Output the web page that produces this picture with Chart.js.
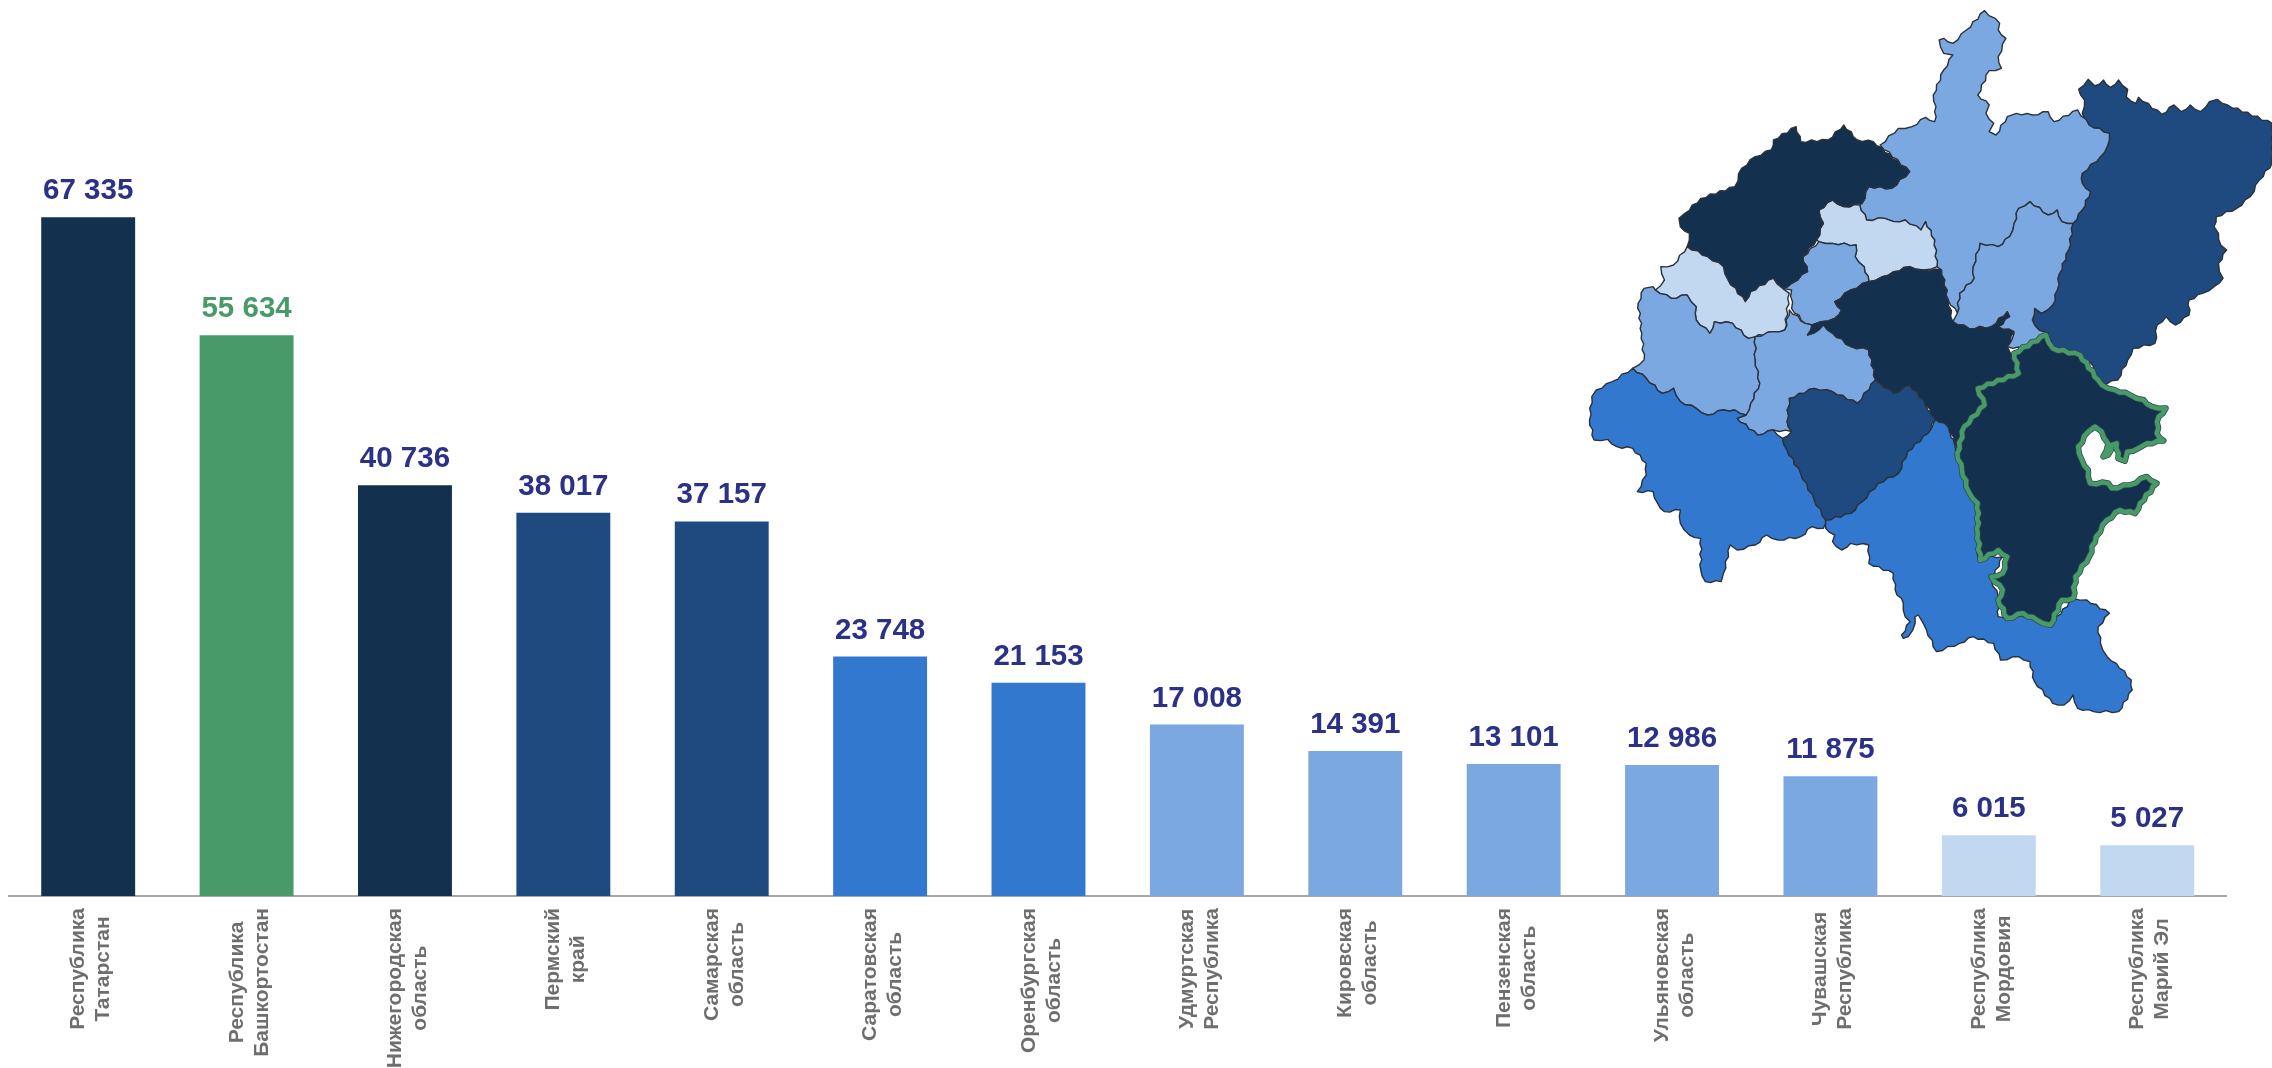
<!DOCTYPE html>
<html lang="ru">
	<head>
		<meta charset="utf-8">
		<title>Регионы ПФО</title>
		<style>
			body { margin: 0; background-color: #FFF; }
			canvas { display: block; }
		</style>
		<script src="https://cdn.jsdelivr.net/npm/chart.js"></script>
	</head>
	<body>
		<canvas id="chart" width="2272" height="1068"></canvas>
		<script>
			const regions = [
				["Республика", "Татарстан"], ["Республика", "Башкортостан"], ["Нижегородская", "область"],
				["Пермский", "край"], ["Самарская", "область"], ["Саратовская", "область"],
				["Оренбургская", "область"], ["Удмуртская", "Республика"], ["Кировская", "область"],
				["Пензенская", "область"], ["Ульяновская", "область"], ["Чувашская", "Республика"],
				["Республика", "Мордовия"], ["Республика", "Марий Эл"]
			];
			const values = [67335, 55634, 40736, 38017, 37157, 23748, 21153, 17008, 14391, 13101, 12986, 11875, 6015, 5027];

			const DARK = "#14304f", NAVY = "#1f4a80", MID = "#3278cf", LIGHT = "#7ba8e0", PALE = "#c2d8f1", GREEN = "#489a68";
			const barColors = [DARK, GREEN, DARK, NAVY, NAVY, MID, MID, LIGHT, LIGHT, LIGHT, LIGHT, LIGHT, PALE, PALE];

			// контуры карты в координатах кропа: x / 2.202 + 1560, y / 3
			const mapShapes = [
				[NAVY, [1142,268,1163,238,1178,258,1197,240,1212,262,1230,240,1250,268,1247,290,1268,310,1274,292,1325,343,1352,315,1368,335,1388,315,1410,335,1430,305,1447,298,1470,315,1568,370,1568,490,1540,540,1520,590,1490,625,1445,650,1440,680,1450,700,1455,735,1468,750,1450,790,1452,815,1460,835,1440,860,1415,880,1385,900,1385,945,1355,975,1335,950,1315,975,1310,1030,1262,1045,1250,1080,1228,1140,1190,1155,1175,1100,1145,1065,1085,1045,1075,1000,1055,990,1040,960,1045,925,1060,940,1085,915,1095,870,1100,820,1120,750,1130,670,1150,630,1168,575,1150,550,1150,520,1190,470,1205,440,1210,400,1165,375,1150,340,1155,300]],
				[LIGHT, [705,435,745,385,775,380,805,352,825,365,828,320,822,285,845,210,865,165,845,160,835,120,845,115,865,130,895,90,935,32,968,70,965,90,982,115,965,170,972,205,945,212,920,285,945,315,938,340,955,370,945,395,960,405,985,350,1005,340,1040,345,1075,335,1088,365,1140,330,1165,375,1210,400,1205,440,1190,470,1150,520,1150,550,1168,575,1150,630,1130,670,1105,665,1095,630,1075,645,1035,605,1010,625,1000,670,990,710,965,740,925,730,910,800,912,835,880,880,875,940,855,900,840,810,830,800,825,720,805,665,795,690,760,660,735,665,715,655,675,660,660,615,665,610,680,560,730,565,770,515]],
				[LIGHT, [1130,670,1105,665,1095,630,1075,645,1035,605,1010,625,1000,670,990,710,965,740,925,730,910,800,912,835,880,880,875,940,865,965,900,985,950,980,985,935,990,950,965,980,1000,1000,985,1040,1045,1050,1075,1000,1055,990,1040,960,1045,925,1060,940,1085,915,1095,870,1100,820,1120,750]],
				[PALE, [600,600,625,620,660,615,675,660,715,655,735,665,760,660,795,690,805,665,825,720,830,800,800,810,770,800,735,815,710,830,680,845,670,800,650,770,652,735,600,730,570,725,565,720,580,670,570,630]],
				[LIGHT, [570,725,600,730,652,735,650,770,670,800,680,845,640,870,605,905,620,930,605,955,575,965,555,975,540,970,510,925,510,870,490,865,510,850,545,815,535,770]],
				[DARK, [262,655,275,640,310,595,385,560,400,505,430,470,465,450,470,420,520,380,530,425,590,420,625,375,655,420,690,425,770,515,730,565,680,560,665,610,625,620,600,600,570,630,580,670,565,720,535,770,545,815,510,850,490,865,470,835,420,875,408,905,370,840,360,800,325,770,280,740,285,700,265,680]],
				[PALE, [280,740,325,770,360,800,370,840,408,905,420,875,470,835,490,865,505,880,495,990,470,995,415,1015,380,970,340,965,330,1000,300,960,300,920,280,885,245,895,210,870,230,840,222,800,250,795]],
				[LIGHT, [205,860,210,870,245,895,280,885,300,920,300,960,330,1000,340,965,380,970,415,1015,430,1010,430,1080,440,1150,420,1210,410,1245,385,1230,360,1230,325,1245,300,1225,265,1205,250,1165,225,1180,190,1135,160,1105,185,1080,180,1000,172,910,185,865]],
				[LIGHT, [430,1010,470,995,495,990,505,930,540,970,555,975,545,1005,575,965,680,1050,695,1140,655,1210,600,1175,560,1165,505,1195,500,1265,510,1295,470,1290,435,1305,390,1255,410,1245,420,1210,440,1150,430,1080]],
				[MID, [160,1105,190,1135,225,1180,250,1165,265,1205,300,1225,325,1245,360,1230,385,1230,410,1245,390,1255,435,1305,470,1290,490,1315,500,1350,530,1420,560,1500,585,1555,580,1585,555,1580,530,1610,480,1620,455,1605,430,1635,390,1650,375,1635,360,1720,355,1745,320,1745,310,1710,310,1615,285,1605,265,1570,265,1530,230,1535,215,1510,205,1475,170,1475,190,1425,190,1390,160,1345,125,1340,105,1318,75,1320,65,1260,70,1190,80,1170,115,1145]],
				[MID, [825,1260,850,1260,870,1340,885,1410,900,1475,920,1510,920,1600,920,1670,975,1670,950,1740,965,1790,965,1850,1050,1850,1080,1875,1130,1795,1160,1800,1210,1840,1185,1880,1190,1930,1205,1970,1225,1990,1258,2040,1260,2070,1230,2135,1175,2135,1140,2125,1130,2085,1110,2115,1085,2110,1045,2045,1035,1985,1010,1970,970,1980,955,1930,910,1910,880,1930,829,1955,807,1890,800,1870,789,1845,782,1850,782,1870,767,1910,756,1915,752,1905,771,1865,760,1850,756,1810,738,1770,734,1720,680,1690,680,1635,640,1630,620,1650,600,1625,605,1605,585,1585,585,1560,640,1540,665,1505,700,1450,745,1420,765,1355,810,1300]],
				[NAVY, [705,1150,735,1180,770,1155,805,1200,810,1230,830,1245,810,1300,765,1355,745,1420,700,1450,665,1505,640,1540,585,1560,560,1500,530,1420,500,1350,490,1315,510,1295,500,1265,505,1195,560,1165,600,1175,655,1210,695,1140]],
				[DARK, [605,905,640,870,680,845,710,830,735,815,770,800,800,810,840,810,855,900,865,965,900,985,950,980,985,935,990,950,965,980,1000,995,985,1040,1000,1070,1015,1120,920,1160,935,1210,900,1260,880,1310,875,1345,855,1280,825,1255,800,1200,770,1155,735,1180,705,1150,695,1140,680,1050,640,1040,600,1000,580,975,570,990,545,1005,555,975,575,965,605,955,620,930]]
			];
			const bashkiria = [1000,1060,1070,1005,1085,1045,1145,1065,1185,1140,1193,1155,1222,1170,1255,1185,1285,1200,1303,1220,1334,1225,1318,1250,1314,1300,1329,1322,1292,1330,1273,1345,1249,1355,1244,1383,1229,1375,1226,1330,1215,1335,1207,1365,1196,1370,1207,1330,1193,1295,1178,1280,1163,1295,1141,1340,1149,1380,1163,1410,1167,1450,1207,1450,1215,1465,1255,1455,1292,1430,1314,1450,1277,1510,1266,1540,1233,1530,1204,1560,1180,1610,1165,1670,1135,1730,1130,1795,1105,1800,1080,1875,1050,1860,1020,1840,985,1855,965,1800,975,1770,950,1730,975,1720,985,1670,965,1650,925,1680,920,1600,920,1510,900,1475,885,1410,875,1360,890,1280,935,1215,920,1165,1010,1120];

			// границы на карте рваные: бьём ребро на куски и чуть сдвигаем их поперёк,
			// ребро всегда обходим в одном порядке, чтобы у соседей граница совпала
			function edgePoints(ax, ay, bx, by) {
				const flip = ax > bx || (ax == bx && ay > by);
				if (flip) [ax, ay, bx, by] = [bx, by, ax, ay];
				const len = Math.hypot(bx - ax, by - ay), n = Math.floor(len / 5), out = [];
				for (let k = 1; k < n; k++) {
					const off = k % 2 ? 1 : -1;
					out.push([ax + (bx - ax) * k / n - (by - ay) / len * off, ay + (by - ay) * k / n + (bx - ax) / len * off]);
				}
				return flip ? out.reverse() : out;
			}

			function tracePoly(ctx, pts) {
				ctx.beginPath();
				for (let i = 0; i < pts.length; i += 2) {
					const x = 1560 + pts[i] / 2.202, y = pts[i + 1] / 3;
					const j = (i + 2) % pts.length;
					if (i == 0) ctx.moveTo(x, y);
					else ctx.lineTo(x, y);
					edgePoints(x, y, 1560 + pts[j] / 2.202, pts[j + 1] / 3).forEach(p => ctx.lineTo(p[0], p[1]));
				}
				ctx.closePath();
			}

			const mapPlugin = {
				id: "map",
				afterDraw(chart) {
					const ctx = chart.ctx;
					ctx.save();
					ctx.lineJoin = "round";
					mapShapes.forEach(([color, pts]) => {
						tracePoly(ctx, pts);
						ctx.fillStyle = color;
						ctx.fill();
						ctx.strokeStyle = "#2b323b";
						ctx.lineWidth = 1.4;
						ctx.stroke();
					});
					tracePoly(ctx, bashkiria);
					ctx.fillStyle = DARK;
					ctx.fill();
					ctx.strokeStyle = "#2b4a4a";
					ctx.lineWidth = 6;
					ctx.stroke();
					ctx.strokeStyle = GREEN;
					ctx.lineWidth = 4.5;
					ctx.stroke();
					ctx.restore();
				}
			};

			// подписи значений над столбцами и вертикальные подписи регионов
			const labelPlugin = {
				id: "labels",
				afterDatasetsDraw(chart) {
					const ctx = chart.ctx, bars = chart.getDatasetMeta(0).data, axis = chart.scales.x;
					ctx.save();
					ctx.textAlign = "center";
					ctx.textBaseline = "alphabetic";
					ctx.font = "bold 29.5px 'Liberation Sans'";
					bars.forEach((bar, i) => {
						ctx.fillStyle = i == 1 ? GREEN : "#2a3187";
						ctx.fillText(values[i].toLocaleString("ru-RU").replace(/\s/g, " "), bar.x, bar.y - 18);
					});
					ctx.font = "bold 21px 'Liberation Sans'";
					ctx.fillStyle = "#6e6e6e";
					regions.forEach((lines, i) => {
						const longest = Math.max(...lines.map(l => ctx.measureText(l).width));
						ctx.save();
						ctx.translate(axis.getPixelForValue(i), chart.chartArea.bottom + 12 + longest / 2);
						ctx.rotate(-Math.PI / 2);
						ctx.fillText(lines[0], 0, -4);
						ctx.fillText(lines[1], 0, 21);
						ctx.restore();
					});
					ctx.restore();
				}
			};

			new Chart(document.getElementById("chart"), {
				type: "bar",
				data: {
					labels: regions,
					datasets: [{
						data: values,
						backgroundColor: barColors,
						categoryPercentage: 0.593,
						barPercentage: 1
					}]
				},
				options: {
					responsive: false,
					animation: false,
					layout: { padding: { left: 9, right: 45.6, top: 0, bottom: 164 } },
					plugins: { legend: { display: false }, tooltip: { enabled: false } },
					scales: {
						x: {
							grid: { display: false },
							border: { color: "#a8a8a8", width: 2 },
							ticks: { display: false }
						},
						y: { display: false, min: 0, max: 88878 }
					}
				},
				plugins: [labelPlugin, mapPlugin]
			});
		</script>
	</body>
</html>
